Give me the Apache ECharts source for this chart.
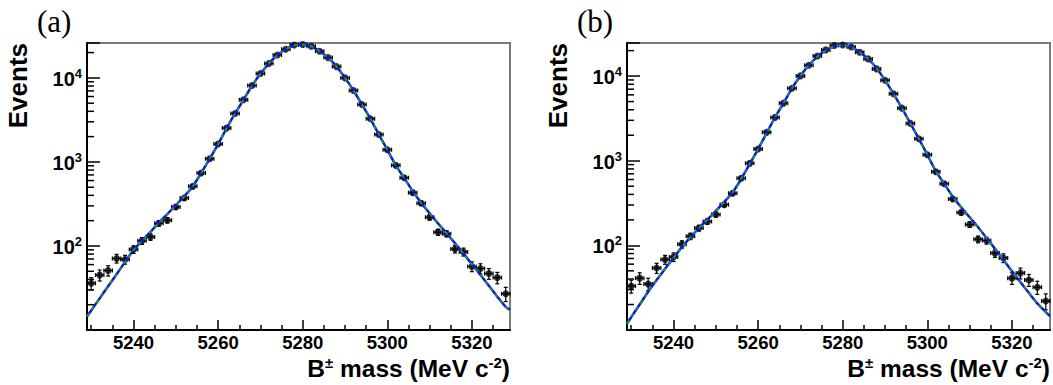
<!DOCTYPE html>
<html><head><meta charset="utf-8">
<script src="https://cdn.jsdelivr.net/npm/echarts@6/dist/echarts.min.js"></script>
<style>html,body{margin:0;padding:0;background:#fff}#c{width:1053px;height:385px}</style>
</head><body><div id="c"></div><script>
// ---------- data ----------
const massBins = [5230,5232,5234,5236,5238,5240,5242,5244,5246,5248,5250,5252,5254,5256,5258,5260,5262,5264,5266,5268,5270,5272,5274,5276,5278,5280,5282,5284,5286,5288,5290,5292,5294,5296,5298,5300,5302,5304,5306,5308,5310,5312,5314,5316,5318,5320,5322,5324,5326,5328];
const eventsA = [36,45,51,71,69,91,115,128,186,202,291,372,512,738,1091,1630,2525,3770,5480,8110,11250,14790,18760,21900,24650,24900,23800,20750,17420,13620,10000,7070,4820,3260,2120,1396,910,649,431,322,219,146,140,92,85,57,54,47,42,27];
const eventsB = [33,41,35,54,68,73,103,128,160,191,231,303,413,620,931,1374,2163,3250,4790,7200,10050,13450,17300,20400,22960,23350,22100,19140,15970,12160,8950,6170,4180,2760,1816,1178,741,535,353,244,176,118,114,81,71,41,47,39,32,22];
const fitX = [5229,5230,5232,5234,5236,5238,5240,5242,5244,5246,5248,5250,5252,5254,5256,5258,5260,5262,5264,5266,5268,5270,5272,5274,5276,5278,5280,5282,5284,5286,5288,5290,5292,5294,5296,5298,5300,5302,5304,5306,5308,5310,5312,5314,5316,5318,5320,5322,5324,5326,5328,5329];
const fitA = [14.5,17.1,23.8,33.1,46.1,64.3,89.5,115,147,189,240,305,390,510,738,1091,1630,2510,3770,5480,8050,11200,14800,18700,21900,24400,25000,23800,20750,17420,13620,10000,7070,4820,3260,2120,1396,910,640,450,325,245,185,141.5,107.7,81.2,60.6,45.4,33.6,24.9,18.9,17.4];
const fitB = [11.9,14.2,20,28.3,38.9,52.8,71.3,95.3,125,160,201,255,326,424,608,914,1374,2123,3250,4790,7200,10050,13450,17000,20100,22500,23300,22100,19140,15970,12400,8950,6170,4180,2760,1816,1178,753,535,376,282,215,164,122.5,91,67.5,49.6,36.8,27.5,20.6,16.3,14.6];
const xRange = [5229, 5329];
const yMaxA = 26000, yMaxB = 24600, yMin = 10;
const xMajorTicks = [5240,5260,5280,5300,5320];
const xMinorTicks = [5230,5235,5245,5250,5255,5265,5270,5275,5285,5290,5295,5305,5310,5315,5325];
const yLabelValues = [100,1000,10000];
const yMinorTicks = [20,30,40,50,60,70,80,90,200,300,400,500,600,700,800,900,2000,3000,4000,5000,6000,7000,8000,9000,20000];
const panelLabels = ['(a)','(b)'];
const yTitle = 'Events';

// ---------- chart ----------
const chart = echarts.init(document.getElementById('c'), null, {renderer:'svg'});
const FONT = '"Liberation Sans", Arial, Helvetica, sans-serif';
const SERIF = '"Liberation Serif", "DejaVu Serif", serif';
const grids = [
  {left:87, top:43, width:423, height:287},
  {left:627, top:43, width:423, height:287}
];
const option = {
  animation:false,
  backgroundColor:'#fff',
  grid: grids.map(g => Object.assign({show:true, borderColor:'#7a7a7a', borderWidth:2, backgroundColor:'transparent'}, g)),
  xAxis: [], yAxis: [], series: [], graphic: []
};
const panels = [{ev:eventsA, fit:fitA, ymax:yMaxA}, {ev:eventsB, fit:fitB, ymax:yMaxB}];
panels.forEach((p, i) => {
  const xMain = option.xAxis.length;
  option.xAxis.push({
    type:'value', gridIndex:i, min:xRange[0], max:xRange[1], position:'bottom',
    axisLine:{show:true, onZero:false, lineStyle:{color:'#000', width:2}},
    axisTick:{show:true, inside:true, length:10, customValues:xMajorTicks, lineStyle:{color:'#000', width:1.5}},
    axisLabel:{show:true, customValues:xMajorTicks, formatter: v => String(v), margin:4, color:'#000', fontSize:18.5, lineHeight:17, fontWeight:'bold', fontFamily:FONT},
    splitLine:{show:false}
  });
  option.xAxis.push({
    type:'value', gridIndex:i, min:xRange[0], max:xRange[1], position:'bottom',
    axisLine:{show:false},
    axisTick:{show:true, inside:true, length:5, customValues:xMinorTicks, lineStyle:{color:'#000', width:1.5}},
    axisLabel:{show:false}, splitLine:{show:false}
  });
  const yIdx = option.yAxis.length;
  option.yAxis.push({
    type:'log', logBase:10, gridIndex:i, min:yMin, max:p.ymax,
    axisLine:{show:true, onZero:false, lineStyle:{color:'#000', width:2}},
    axisTick:{show:true, inside:true, length:13, lineStyle:{color:'#000', width:1.5}},
    axisLabel:{
      show:true, margin:5, color:'#000',
      formatter: v => {
        const e = Math.round(Math.log10(v));
        if (Math.abs(Math.log10(v) - e) < 1e-6 && yLabelValues.indexOf(Math.pow(10, e)) >= 0) return '{b|10}{s|' + e + '}';
        return '';
      },
      rich:{
        b:{fontSize:20, fontWeight:'bold', fontFamily:FONT, color:'#000', verticalAlign:'bottom', lineHeight:22},
        s:{fontSize:13, fontWeight:'bold', fontFamily:FONT, color:'#000', verticalAlign:'bottom', padding:[0,0,9,0], lineHeight:22}
      }
    },
    splitLine:{show:false}
  });
  // minor y ticks
  option.series.push({
    type:'custom', xAxisIndex:xMain, yAxisIndex:yIdx, silent:true, clip:false, z:6,
    data: yMinorTicks.map(v => [xRange[0], v]),
    renderItem:(params, api) => {
      const c = api.coord([api.value(0), api.value(1)]);
      return {type:'line', shape:{x1:c[0], y1:c[1], x2:c[0]+7, y2:c[1]}, style:{stroke:'#000', lineWidth:1.5}};
    }
  });
  // error bars
  option.series.push({
    type:'custom', xAxisIndex:xMain, yAxisIndex:yIdx, silent:true, z:3,
    data: massBins.map((m, k) => [m, p.ev[k], Math.sqrt(p.ev[k])]),
    renderItem:(params, api) => {
      const x = api.value(0), y = api.value(1), e = api.value(2);
      const hi = api.coord([x, y + e]);
      const lo = api.coord([x, Math.max(y - e, yMin)]);
      const l = api.coord([x - 1, y]);
      const r = api.coord([x + 1, y]);
      const st = {stroke:'#000', lineWidth:1.2};
      return {type:'group', children:[
        {type:'line', shape:{x1:hi[0], y1:hi[1], x2:lo[0], y2:lo[1]}, style:st},
        {type:'line', shape:{x1:hi[0]-2, y1:hi[1], x2:hi[0]+2, y2:hi[1]}, style:st},
        {type:'line', shape:{x1:lo[0]-2, y1:lo[1], x2:lo[0]+2, y2:lo[1]}, style:st},
        {type:'line', shape:{x1:l[0], y1:l[1], x2:r[0], y2:r[1]}, style:st},
        {type:'line', shape:{x1:l[0], y1:l[1]-2, x2:l[0], y2:l[1]+2}, style:st},
        {type:'line', shape:{x1:r[0], y1:r[1]-2, x2:r[0], y2:r[1]+2}, style:st}
      ]};
    }
  });
  // data points
  option.series.push({
    type:'scatter', xAxisIndex:xMain, yAxisIndex:yIdx, z:4, silent:true,
    symbol:'circle', symbolSize:7, itemStyle:{color:'#000'},
    data: massBins.map((m, k) => [m, p.ev[k]])
  });
  // fit curves
  const fitData = fitX.map((x, k) => [x, p.fit[k]]);
  option.series.push({
    type:'line', xAxisIndex:xMain, yAxisIndex:yIdx, z:5, silent:true, showSymbol:false, smooth:0.2,
    data: fitData, lineStyle:{color:'#1010ff', width:2.5}
  });
  option.series.push({
    type:'line', xAxisIndex:xMain, yAxisIndex:yIdx, z:6, silent:true, showSymbol:false, smooth:0.2,
    data: fitData, lineStyle:{color:'#1a9a1a', width:2, type:[4,4]}
  });
  const g = grids[i];
  // panel label
  option.graphic.push({
    type:'text', x:g.left - 50, y:6,
    style:{text:panelLabels[i], fontSize:31, fontFamily:SERIF, fontWeight:'normal', fill:'#000', textAlign:'left', textVerticalAlign:'top', align:'left', verticalAlign:'top'}
  });
  // y title
  option.graphic.push({
    type:'text', x:g.left - 69, y:g.top, rotation:Math.PI/2,
    style:{text:yTitle, fontSize:26, fontWeight:'bold', fontFamily:FONT, fill:'#000', textAlign:'right', textVerticalAlign:'middle', align:'right', verticalAlign:'middle'}
  });
  // x title
  option.graphic.push({
    type:'text', x:g.left + g.width, y:369,
    style:{
      text:'{n|B}{s|±}{n| mass (MeV c}{s|-2}{n|)}',
      textAlign:'right', textVerticalAlign:'middle', align:'right', verticalAlign:'middle',
      rich:{
        n:{fontSize:24.5, fontWeight:'bold', fontFamily:FONT, fill:'#000', verticalAlign:'bottom', lineHeight:24},
        s:{fontSize:15, fontWeight:'bold', fontFamily:FONT, fill:'#000', verticalAlign:'bottom', lineHeight:24, padding:[0,0,11,0]}
      }
    }
  });
});
chart.setOption(option);
</script></body></html>
